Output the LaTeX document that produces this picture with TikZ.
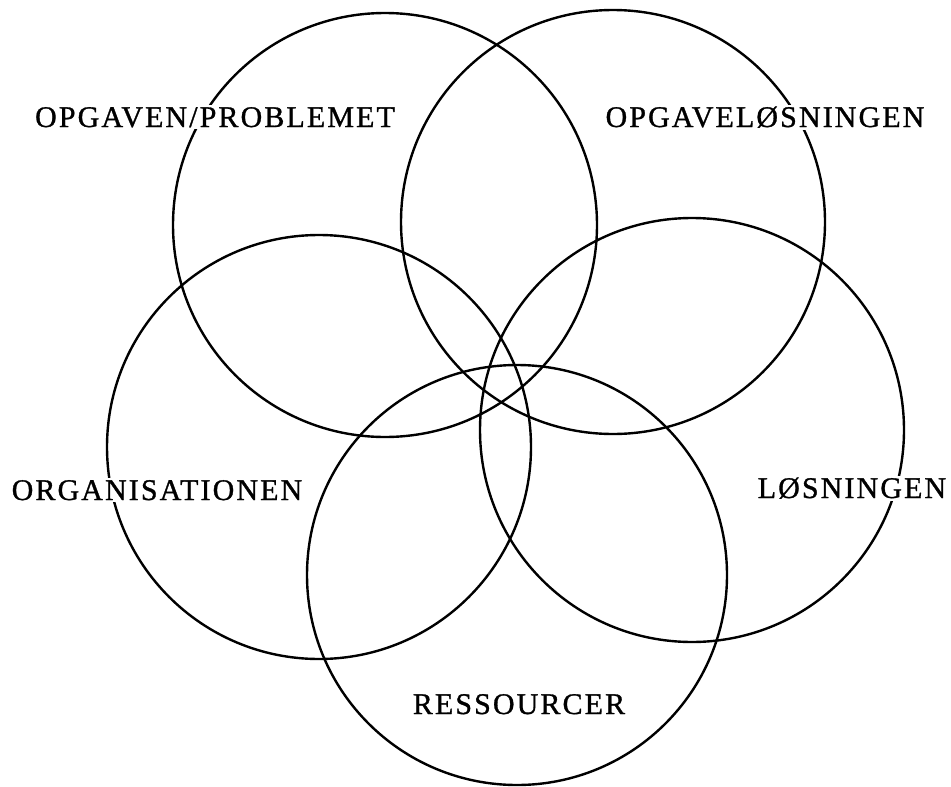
\documentclass[tikz,border=0pt]{standalone}
\usepackage{fontspec}
\setmainfont{Liberation Serif}
\usepackage{tikz}
\usetikzlibrary{positioning}

\begin{document}
\begin{tikzpicture}[
  x=1pt, y=-1pt,
  ring/.style={circle, draw, line width=2.4pt, minimum size=424pt, inner sep=0pt},
  tag/.style={fill=white, inner sep=2pt, anchor=base,
              font=\fontsize{30}{32}\selectfont\addfontfeatures{LetterSpace=7,FakeBold=1}}
]
\useasboundingbox (0,0) rectangle (951,787);

% the five circles
\node[ring] (problem)  at (385,225) {};
\node[ring] (loesning) at (613,222) {};
\node[ring] (org)      at (319,447) {};
\node[ring] (result)   at (692,430) {};
\node[ring, minimum size=420pt] (res) at (517,575) {};

% labels
\node[tag] (tproblem)  at (215,127) {OPGAVEN/PROBLEMET};
\node[tag] (tloesning) at (765,127) {OPGAVELØSNINGEN};
\node[tag] (torg)      at (157,500) {ORGANISATIONEN};
\node[tag] (tresult)   at (852,498) {LØSNINGEN};
\node[tag] (tres)      at (519,714) {RESSOURCER};

\end{tikzpicture}
\end{document}
